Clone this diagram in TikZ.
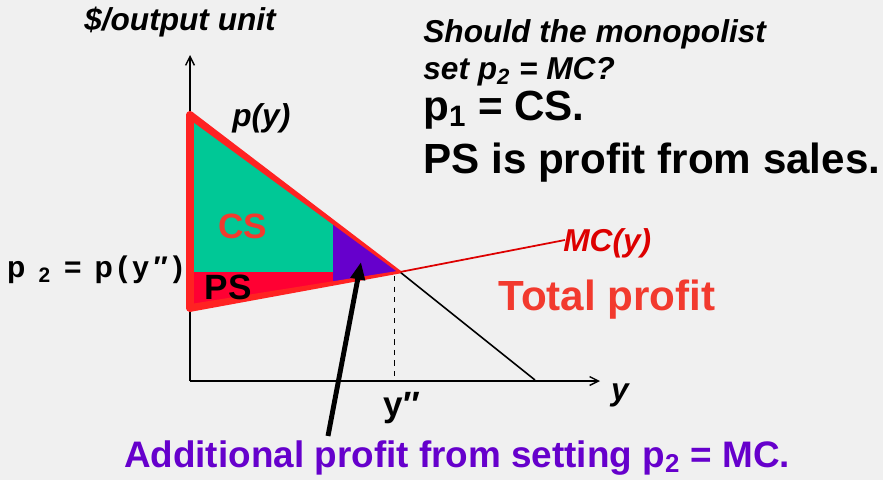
\documentclass[tikz,border=0pt]{standalone}
\usepackage{fontspec}
\setmainfont{Liberation Sans}
\usetikzlibrary{arrows.meta, calc}

\definecolor{bggray}{HTML}{F0F0F0}
\definecolor{csgreen}{HTML}{00C896}
\definecolor{outred}{HTML}{FF2222}
\definecolor{psred}{HTML}{FF0033}
\definecolor{gainpurple}{HTML}{6600CC}
\definecolor{txtred}{HTML}{F23A2E}
\definecolor{mcred}{HTML}{DD0000}

\begin{document}
\begin{tikzpicture}[
  x=0.02cm, y=-0.02cm,
  lbl/.style  ={inner sep=0pt, font=\bfseries\fontsize{18}{21}\selectfont},
  ilbl/.style ={inner sep=0pt, font=\bfseries\itshape\fontsize{18}{21}\selectfont},
  biglbl/.style={inner sep=0pt, font=\bfseries\fontsize{24}{29}\selectfont},
  axis/.style ={-{Straight Barb[length=5pt,width=5pt]}, line width=0.8pt},
  outline/.style={draw=outred, line width=4.4pt, line cap=round},
  bigarr/.style={-{Triangle[length=10pt,width=8pt]}, line width=2.8pt},
]

%% ---- background / frame ----
\fill[bggray] (0,0) rectangle (883,480);
\useasboundingbox (0,0) rectangle (883,480);

%% ---- key points ----
\coordinate (org)   at (190,381);
\coordinate (ytip)  at (190,55);
\coordinate (xtip)  at (600,381);
\coordinate (top)   at (190,115);
\coordinate (eq)    at (400,272);
\coordinate (mc0)   at (190,308);
\coordinate (dend)  at (535,380);
\coordinate (mcend) at (565,240);
\coordinate (dq)    at ($(top)!0.681!(eq)$);
\coordinate (mq)    at ($(mc0)!0.681!(eq)$);
\coordinate (pq)    at (dq |- eq);
\coordinate (p2l)   at (org |- eq);
\coordinate (yqtop) at ($(eq)+(-6,4)$);

%% ---- areas ----
\fill[csgreen]    (top) -- (dq) -- (pq) -- (p2l) -- cycle;
\fill[psred]      (p2l) -- (pq) -- (mq) -- (mc0) -- cycle;
\fill[gainpurple] (dq) -- (eq) -- (mq) -- cycle;

%% ---- axes ----
\draw[axis] (org) -- (ytip);
\draw[axis] (org) -- (xtip);

%% ---- curves ----
\draw[line width=0.9pt] (eq) -- (dend);
\draw[mcred, line width=1pt] (eq) -- (mcend);
\draw[dashed, line width=0.5pt] (yqtop) -- (yqtop |- org);

%% thick red border, thinning towards the equilibrium point
\draw[outline] (top) -- (mc0);
\fill[outred] ($(top)!2.2pt!90:(eq)$) -- ($(eq)!0.8pt!-90:(top)$)
  -- ($(eq)!0.8pt!90:(top)$) -- ($(top)!2.2pt!-90:(eq)$) -- cycle;
\fill[outred] ($(mc0)!2.2pt!90:(eq)$) -- ($(eq)!0.8pt!-90:(mc0)$)
  -- ($(eq)!0.8pt!90:(mc0)$) -- ($(mc0)!2.2pt!-90:(eq)$) -- cycle;
\fill[outred] (top) circle[radius=2.2pt] (mc0) circle[radius=2.2pt];

%% ---- labels ----
\node[ilbl] (yunit) at (180,22) {\$/output unit};
\node[ilbl, anchor=base west] (py) at (232,126) {p(y)};
\node[lbl, text=txtred, font=\bfseries\fontsize{20}{24}\selectfont] (cs) at (243,226) {CS};
\node[lbl, font=\bfseries\fontsize{20}{24}\selectfont] (ps) at (228,287) {PS};
\node[lbl, font=\bfseries\fontsize{17}{20}\selectfont\addfontfeatures{LetterSpace=16}] (p2) at (95,270)
  {p \textsubscript{2} = p(y″)};
\node[ilbl, text=mcred, anchor=west] (mc) at (563,243) {MC(y)};
\node[biglbl, text=txtred] (tp) at (607,300) {Total profit};
\node[lbl, font=\bfseries\fontsize{20}{24}\selectfont] (yq) at (402,408) {y″};
\node[ilbl] (yx) at (620,395) {y};

\node[ilbl, anchor=base west] (q1) at (423,42) {Should the monopolist};
\node[ilbl, anchor=base west] (q2) at (423,79) {set p\textsubscript{2} = MC?};
\node[biglbl, anchor=base west] (a1) at (423,120) {p\textsubscript{1} = CS.};
\node[biglbl, anchor=base west] (a2) at (423,173) {PS is profit from sales.};

\node[lbl, text=gainpurple, font=\bfseries\fontsize{21}{25}\selectfont] (gain) at (457,458)
  {Additional profit from setting p\textsubscript{2} = MC.};

%% ---- pointer ----
\coordinate (arrfoot) at (328,436);
\draw[bigarr] (arrfoot) -- (361,262);

\end{tikzpicture}
\end{document}
